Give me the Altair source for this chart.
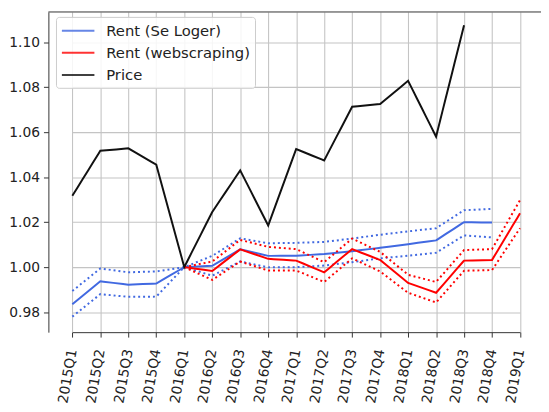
import altair as alt
import pandas as pd

quarters = ["2015Q1", "2015Q2", "2015Q3", "2015Q4", "2016Q1", "2016Q2", "2016Q3", "2016Q4",
            "2017Q1", "2017Q2", "2017Q3", "2017Q4", "2018Q1", "2018Q2", "2018Q3", "2018Q4", "2019Q1"]

price = [1.0317, 1.0517, 1.0528, 1.0455, 1.000, 1.0245, 1.043, 1.0185, 1.0525, 1.0474,
         1.0713, 1.0725, 1.0828, 1.058, 1.1075, None, None]

seloger = [0.9835, 0.9937, 0.9922, 0.9927, 1.000, 1.0006, 1.0079, 1.005, 1.0051, 1.0058,
           1.0071, 1.0086, 1.0102, 1.0119, 1.0200, 1.0198, None]
seloger_hi = [0.9894, 0.9994, 0.9977, 0.9981, 1.000, 1.0050, 1.0128, 1.0106, 1.0108, 1.0112,
              1.0127, 1.0144, 1.0159, 1.0173, 1.0253, 1.0259, None]
seloger_lo = [0.978, 0.988, 0.9868, 0.9869, 1.000, 0.9962, 1.0025, 0.9999, 1.000, 1.0007,
              1.0022, 1.0039, 1.0051, 1.0064, 1.0141, 1.0132, None]

web = [None, None, None, None, 1.000, 0.9983, 1.0079, 1.0037, 1.0029, 0.9977, 1.008, 1.0032,
       0.993, 0.9886, 1.0029, 1.0032, 1.0239]
web_hi = [None, None, None, None, 1.000, 1.0025, 1.0121, 1.009, 1.008, 1.0022, 1.0127, 1.0068,
          0.9966, 0.9934, 1.0076, 1.008, 1.0298]
web_lo = [None, None, None, None, 1.000, 0.9943, 1.0025, 0.9985, 0.9985, 0.9934, 1.0039, 0.9981,
          0.9886, 0.9843, 0.9984, 0.9987, 1.0173]

series_names = ["Rent (Se Loger)", "Rent (webscraping)", "Price"]
colors = ["#4169e1", "#ff0000", "#111111"]
y_ticks = [0.98, 1.00, 1.02, 1.04, 1.06, 1.08, 1.10]

lines = [
    ("seloger_lo", series_names[0], "band", seloger_lo),
    ("seloger_hi", series_names[0], "band2", seloger_hi),
    ("seloger", series_names[0], "solid", seloger),
    ("web_lo", series_names[1], "band", web_lo),
    ("web_hi", series_names[1], "band2", web_hi),
    ("web", series_names[1], "solid", web),
    ("price", series_names[2], "solid", price),
]

rows = []
order = 0
for lid, grp, kind, vals in lines:
    for q, v in zip(quarters, vals):
        if v is not None:
            rows.append({"line": lid, "series": grp, "kind": kind, "quarter": q,
                         "value": v, "order": order})
    order += 1
df = pd.DataFrame(rows)

FONT = "DejaVu Sans"

lines_chart = alt.Chart(df).mark_line(strokeWidth=2).encode(
    x=alt.X("quarter:O",
            scale=alt.Scale(type="point", domain=quarters, range=[24.3, 478.7], padding=0),
            axis=alt.Axis(title=None, labelAngle=280, labelFontSize=14, labelFont=FONT,
                          labelColor="#222", tickSize=5, tickColor="#333", labelPadding=12,
                          domainColor="#333", grid=True, gridColor="#c4c4c4",
                          gridWidth=1.1)),
    y=alt.Y("value:Q",
            scale=alt.Scale(domain=[0.9711, 1.1134], nice=False, zero=False),
            axis=alt.Axis(title=None, values=y_ticks, format=".2f", labelFontSize=14,
                          labelFont=FONT, labelColor="#222", tickSize=5, tickColor="#333",
                          labelPadding=4, domainColor="#333", grid=True,
                          gridColor="#c4c4c4", gridWidth=1.1)),
    color=alt.Color("series:N",
                    scale=alt.Scale(domain=series_names, range=colors),
                    legend=alt.Legend(title=None, orient="none", legendX=7.7, legendY=5,
                                      symbolType="M-1,0L3.125,0", symbolSize=256,
                                      symbolStrokeWidth=2, symbolOpacity=0.8, labelOffset=28,
                                      labelFontSize=15, labelFont=FONT, labelColor="#222",
                                      rowPadding=5.5, padding=5,
                                      fillColor="rgba(255,255,255,0.85)",
                                      strokeColor="#cccccc", cornerRadius=3)),
    strokeDash=alt.StrokeDash("kind:N",
                              scale=alt.Scale(domain=["solid", "band", "band2"],
                                              range=[[10, 0], [2, 3], [2, 3]]),
                              legend=None),
    detail="line:N",
    order="order:Q",
)

top_spine = alt.Chart(pd.DataFrame({"a": [0]})).mark_rule(color="#333", strokeWidth=1).encode(
    y=alt.value(0), x=alt.value(0), x2=alt.value(500)
)

chart = alt.layer(lines_chart, top_spine).properties(
    width=500, height=325,
    autosize=alt.AutoSizeParams(type="none"),
    padding={"left": 41, "top": 1, "right": 0, "bottom": 78},
).configure_view(stroke=None)

chart.save("out.html", embed_options={"renderer": "svg", "actions": False})
